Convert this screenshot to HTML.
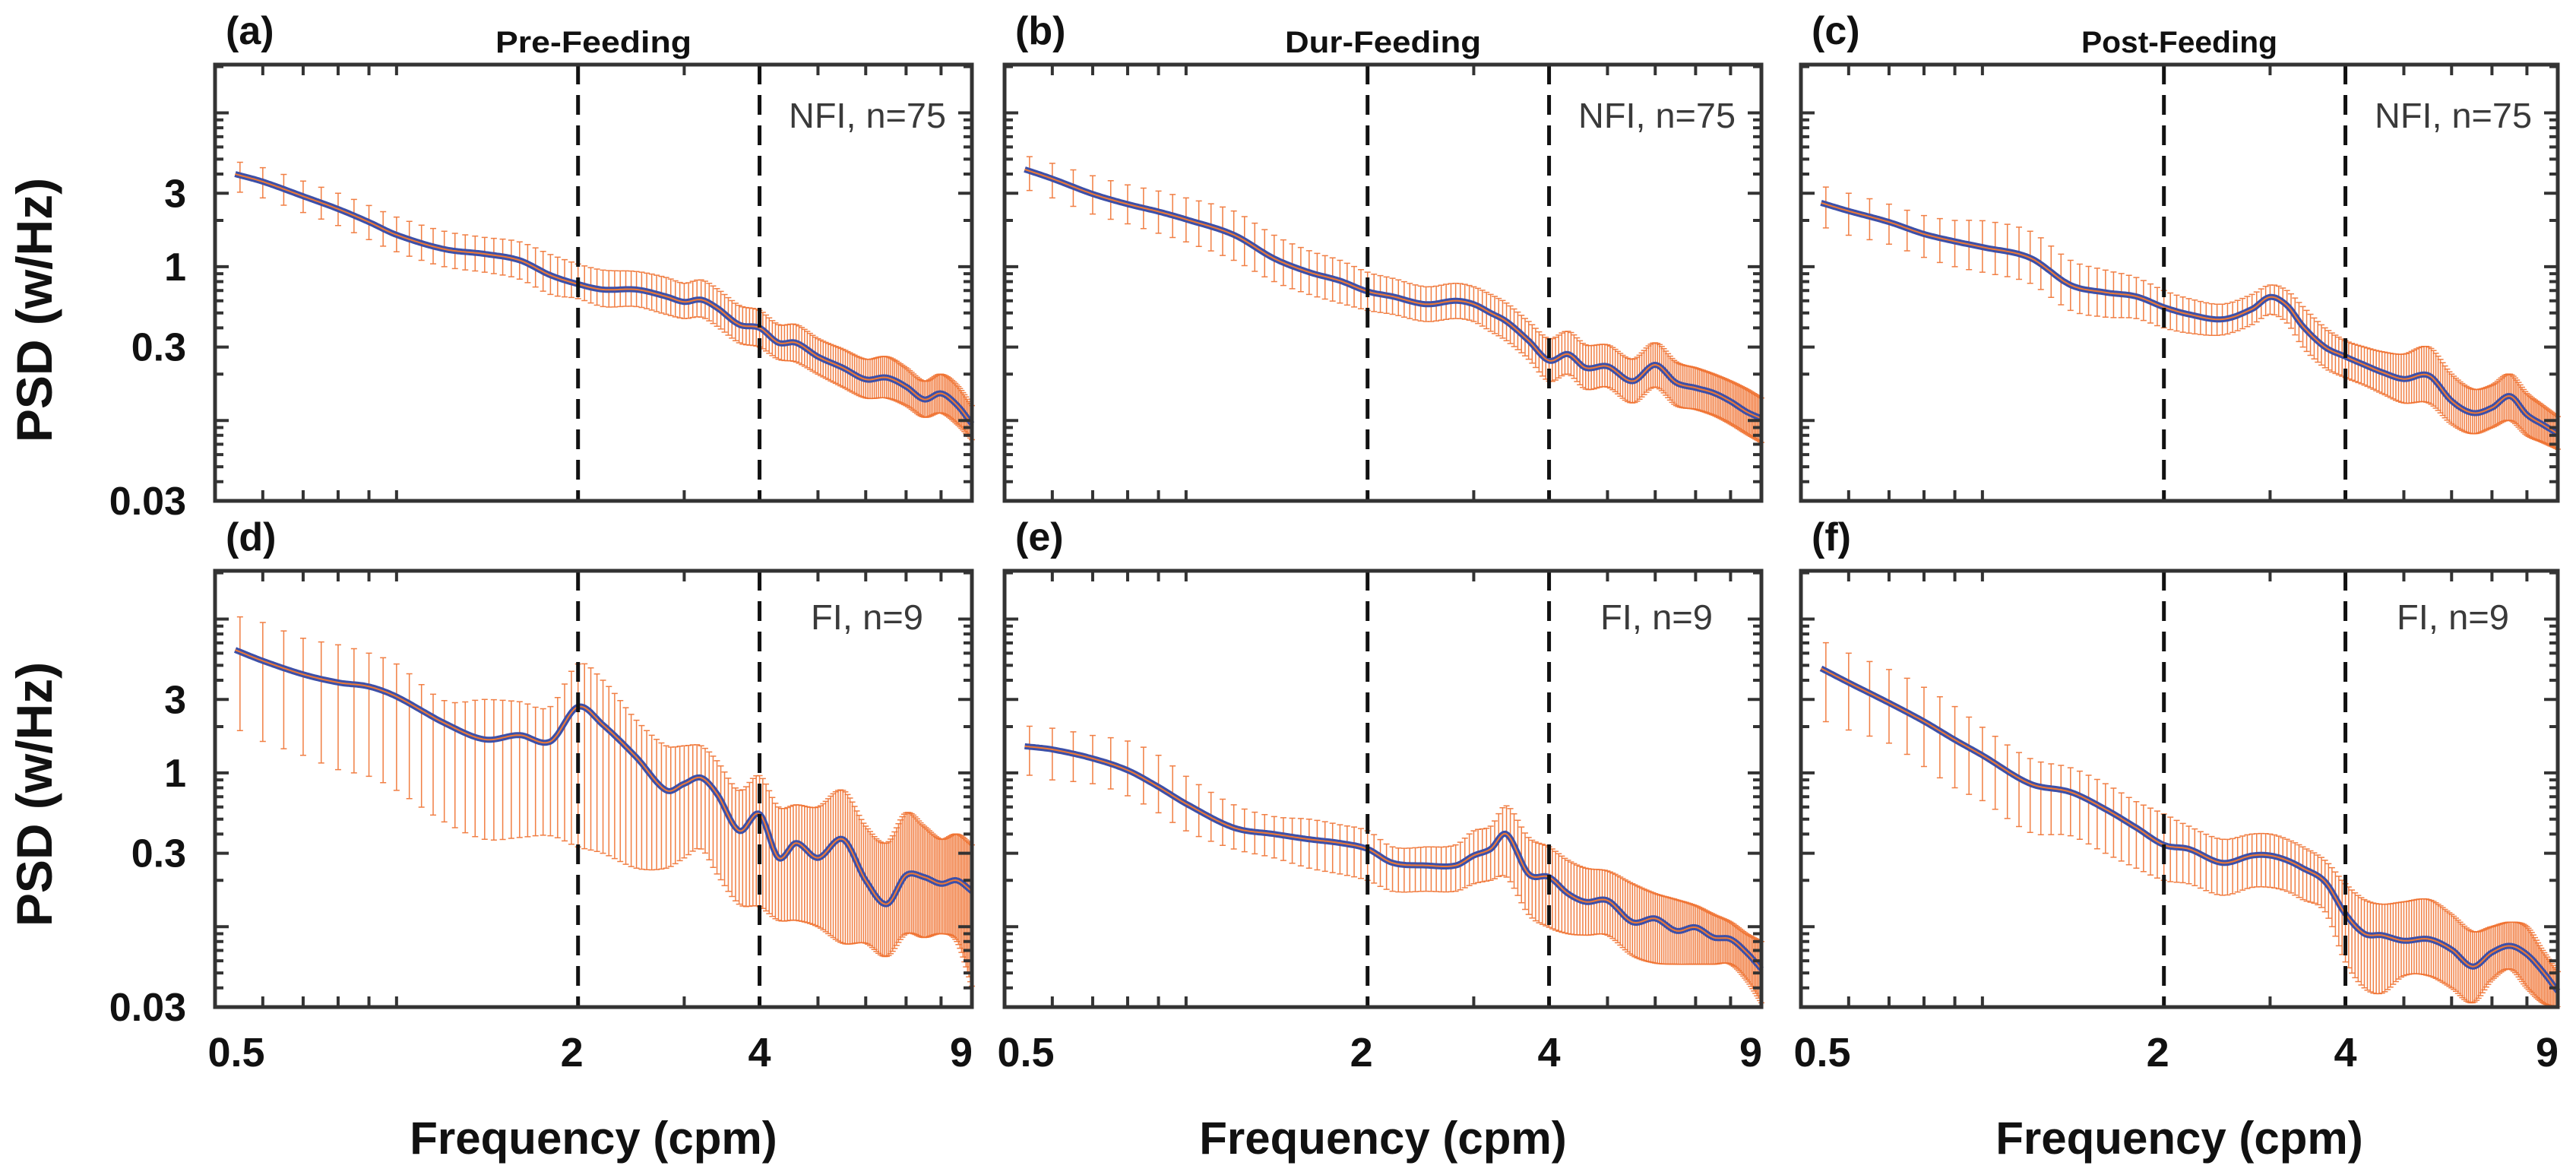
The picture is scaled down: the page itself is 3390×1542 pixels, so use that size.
<!DOCTYPE html>
<html><head><meta charset="utf-8"><style>
html,body{margin:0;padding:0;background:#fff;}
svg{display:block;}
text{font-family:"Liberation Sans",Arial,sans-serif;}
</style></head><body>
<svg id="chart" width="3390" height="1542" viewBox="0 0 3390 1542" xmlns="http://www.w3.org/2000/svg">
<defs>
<clipPath id="clipTop"><rect x="0" y="85" width="3390" height="574"/></clipPath>
<clipPath id="clipBot"><rect x="0" y="751" width="3390" height="574"/></clipPath>
</defs>
<text transform="translate(68,408) rotate(-90)" text-anchor="middle" font-size="66" font-weight="bold" fill="#111">PSD (w/Hz)</text>
<text transform="translate(68,1045) rotate(-90)" text-anchor="middle" font-size="66" font-weight="bold" fill="#111">PSD (w/Hz)</text>
<g id="panels"></g>
</svg>
<script>
const freqs = [0.54,0.6,0.7,0.8,0.9,1.0,1.2,1.4,1.6,1.8,2.0,2.2,2.5,2.8,3.0,3.2,3.4,3.7,4.0,4.3,4.6,5.0,5.5,6.0,6.5,7.0,7.5,8.0,8.5,9.0];

const meanA = [4.0,3.57,2.87,2.37,1.95,1.61,1.30,1.21,1.10,0.88,0.77,0.71,0.71,0.64,0.59,0.61,0.54,0.42,0.40,0.32,0.32,0.26,0.22,0.185,0.19,0.166,0.137,0.15,0.126,0.095];
const hiA = [4.85,4.4,3.6,3.0,2.5,2.1,1.7,1.55,1.45,1.2,1.04,0.95,0.93,0.85,0.78,0.82,0.72,0.56,0.52,0.42,0.42,0.34,0.29,0.25,0.26,0.22,0.18,0.2,0.17,0.125];
const loA = [3.1,2.8,2.25,1.85,1.5,1.25,1.0,0.92,0.83,0.66,0.62,0.55,0.55,0.49,0.46,0.47,0.41,0.32,0.30,0.25,0.24,0.2,0.165,0.14,0.14,0.125,0.105,0.112,0.095,0.075];

const meanB = [4.29,3.73,2.97,2.55,2.28,2.03,1.61,1.13,0.92,0.81,0.69,0.64,0.57,0.60,0.57,0.50,0.44,0.33,0.245,0.27,0.22,0.225,0.18,0.23,0.176,0.163,0.151,0.133,0.114,0.103];
const hiB = [5.3,4.7,3.9,3.4,3.1,2.8,2.3,1.6,1.27,1.1,0.92,0.84,0.74,0.78,0.74,0.66,0.58,0.44,0.34,0.38,0.31,0.31,0.25,0.32,0.24,0.22,0.2,0.18,0.16,0.14];
const loB = [3.2,2.8,2.2,1.9,1.65,1.45,1.1,0.8,0.66,0.58,0.52,0.49,0.44,0.46,0.44,0.38,0.33,0.25,0.18,0.2,0.16,0.165,0.13,0.165,0.125,0.118,0.108,0.095,0.082,0.072];

const meanC = [2.6,2.30,1.95,1.63,1.46,1.34,1.14,0.76,0.68,0.64,0.545,0.49,0.455,0.53,0.635,0.56,0.41,0.30,0.26,0.23,0.206,0.186,0.196,0.134,0.112,0.121,0.144,0.109,0.094,0.082];
const hiC = [3.36,3.0,2.55,2.15,2.0,1.99,1.7,1.1,0.95,0.85,0.70,0.62,0.57,0.66,0.76,0.70,0.55,0.40,0.33,0.30,0.28,0.27,0.30,0.2,0.16,0.17,0.2,0.15,0.125,0.106];
const loC = [1.83,1.6,1.4,1.15,1.0,0.92,0.78,0.52,0.47,0.46,0.40,0.37,0.36,0.42,0.49,0.43,0.30,0.22,0.19,0.17,0.15,0.13,0.13,0.095,0.082,0.09,0.1,0.08,0.072,0.065];

const meanD = [6.3,5.35,4.37,3.87,3.64,3.13,2.11,1.65,1.76,1.60,2.69,2.05,1.26,0.77,0.85,0.93,0.73,0.42,0.54,0.28,0.35,0.28,0.37,0.20,0.14,0.216,0.21,0.19,0.20,0.17];
const hiD = [10.5,9.5,7.5,6.8,6.0,5.1,2.95,3.0,2.9,2.7,5.1,4.0,2.2,1.5,1.5,1.5,1.2,0.77,0.96,0.6,0.62,0.6,0.77,0.45,0.35,0.55,0.45,0.37,0.4,0.34];
const loD = [1.95,1.6,1.3,1.05,0.95,0.77,0.48,0.37,0.38,0.39,0.33,0.3,0.24,0.24,0.28,0.32,0.22,0.14,0.135,0.11,0.11,0.1,0.078,0.078,0.064,0.09,0.085,0.09,0.08,0.041];

const meanE = [1.49,1.42,1.24,1.04,0.81,0.63,0.44,0.40,0.37,0.35,0.32,0.26,0.25,0.25,0.29,0.32,0.40,0.22,0.21,0.164,0.145,0.148,0.107,0.113,0.094,0.099,0.085,0.083,0.068,0.053];
const hiE = [2.02,1.95,1.75,1.61,1.3,0.95,0.62,0.52,0.5,0.46,0.42,0.33,0.33,0.34,0.42,0.45,0.61,0.38,0.33,0.27,0.24,0.23,0.19,0.164,0.15,0.137,0.12,0.107,0.09,0.08];
const loE = [0.98,0.9,0.85,0.71,0.55,0.42,0.32,0.28,0.24,0.22,0.2,0.17,0.17,0.17,0.19,0.2,0.21,0.12,0.099,0.09,0.088,0.088,0.065,0.058,0.057,0.057,0.057,0.057,0.045,0.032];

const meanF = [4.78,3.86,2.85,2.16,1.64,1.30,0.85,0.75,0.58,0.44,0.34,0.32,0.26,0.29,0.29,0.27,0.24,0.196,0.121,0.090,0.088,0.081,0.083,0.071,0.055,0.068,0.075,0.066,0.051,0.038];
const hiF = [7.26,6.0,4.7,3.6,2.7,1.98,1.24,1.08,0.85,0.65,0.54,0.45,0.37,0.40,0.40,0.37,0.33,0.27,0.19,0.15,0.14,0.145,0.15,0.12,0.093,0.10,0.107,0.1,0.07,0.051];
const loF = [2.21,1.9,1.56,1.1,0.8,0.66,0.41,0.39,0.3,0.24,0.2,0.19,0.16,0.18,0.18,0.17,0.15,0.125,0.059,0.04,0.037,0.048,0.048,0.04,0.032,0.045,0.053,0.04,0.032,0.03];

const panelLetters = ['(a)','(b)','(c)','(d)','(e)','(f)'];
const columnTitles = ['Pre-Feeding','Dur-Feeding','Post-Feeding'];
const groupLabels = ['NFI, n=75','FI, n=9'];
const xTickLabels = ['0.5','2','4','9'];
const xTickValues = [0.5,2,4,9];
const yTickLabels = ['3','1','0.3','0.03'];
const yTickValues = [3,1,0.3,0.03];
const bandLines = [2,4];

const NS='http://www.w3.org/2000/svg';
const root=document.getElementById('panels');
const lefts=[283,1322,2370], W=996, tops=[85,751], H=574;
const XMIN=0.5, XMAX=9, YMIN=0.03, YMAX=20.6;
function mk(tag,attrs,parent){const e=document.createElementNS(NS,tag);for(const k in attrs)e.setAttribute(k,attrs[k]);(parent||root).appendChild(e);return e;}
function xs(f,c){return lefts[c]+Math.log10(f/XMIN)/Math.log10(XMAX/XMIN)*W;}
function ys(v,r){return tops[r]+H-Math.log10(v/YMIN)/Math.log10(YMAX/YMIN)*H;}
function interp(vals,f){
  const X=freqs.map(Math.log10), Y=vals.map(Math.log10), x=Math.log10(f), n=X.length;
  if(x<=X[0])return vals[0]; if(x>=X[n-1])return vals[n-1];
  let i=0; while(X[i+1]<x)i++;
  const h=X[i+1]-X[i], t=(x-X[i])/h;
  const m=k=>k<=0?(Y[1]-Y[0])/(X[1]-X[0]):k>=n-1?(Y[n-1]-Y[n-2])/(X[n-1]-X[n-2]):(Y[k+1]-Y[k-1])/(X[k+1]-X[k-1]);
  const t2=t*t,t3=t2*t;
  const y=(2*t3-3*t2+1)*Y[i]+(t3-2*t2+t)*h*m(i)+(-2*t3+3*t2)*Y[i+1]+(t3-t2)*h*m(i+1);
  return Math.pow(10,y);
}
const series=[[meanA,hiA,loA],[meanB,hiB,loB],[meanC,hiC,loC],[meanD,hiD,loD],[meanE,hiE,loE],[meanF,hiF,loF]];

for(let p=0;p<6;p++){
  const r=Math.floor(p/3), c=p%3, L=lefts[c], T=tops[r], B=T+H, R=L+W;
  const [mean,hi,lo]=series[p];
  const g=mk('g',{});
  
  
  const pl=mk('text',{x:L+14,y:T-27,'font-size':52,'font-weight':'bold',fill:'#111'},g);
  pl.textContent=panelLetters[p];
  
  
  if(r===0){
    const tt=mk('text',{x:L+W/2,y:T-16,'text-anchor':'middle','font-size':40,'font-weight':'bold',fill:'#111',textLength:258,lengthAdjust:'spacingAndGlyphs'},g);
    tt.textContent=columnTitles[c];
    
    
  }
  const gl=mk('text',{x:r===0?R-34:R-64,y:r===0?T+83:T+77,'text-anchor':'end','font-size':46,fill:'#3a3a3a',textLength:r===0?207:148,lengthAdjust:'spacingAndGlyphs'},g);
  gl.textContent=groupLabels[r];
  
  
  const dg=mk('g',{'clip-path':r===0?'url(#clipTop)':'url(#clipBot)'},g);
  
  
  for(let f=0.55; f<=9.001; f+=0.05){
    const x=xs(f,c), yh=ys(interp(hi,f),r), yl=ys(interp(lo,f),r);
    const eb=mk('path',{d:`M${x},${yh}V${yl}M${x-4},${yh}h8M${x-4},${yl}h8`,stroke:'#f07130','stroke-width':1.5,'stroke-opacity':0.9,fill:'none'},dg);
    
    
  }
  let d='';
  const lf0=Math.log10(freqs[0]), lf1=Math.log10(9);
  for(let k=0;k<=400;k++){const f=Math.pow(10,lf0+(lf1-lf0)*k/400);d+=(k?'L':'M')+xs(f,c).toFixed(1)+','+ys(interp(mean,f),r).toFixed(1);}
  const ml=mk('path',{d,stroke:'#3c4fa8','stroke-width':8,fill:'none','stroke-linejoin':'round'},dg);
  
  
  const mo=mk('path',{d,stroke:'#f07a35','stroke-width':2,fill:'none'},dg);
  
  
  bandLines.forEach(b=>{
    const dl=mk('line',{x1:xs(b,c),x2:xs(b,c),y1:T,y2:B,stroke:'#111','stroke-width':5,'stroke-dasharray':'26 14'},g);
    
    
  });
  let td='';
  [0.6,0.7,0.8,0.9,1,3,5,6,7,8].forEach(f=>{const x=xs(f,c);td+=`M${x},${T}v14M${x},${B}v-14`;});
  [0.01,0.1,1,10].forEach(dec=>{for(let m=2;m<=9;m++){const v=dec*m;if(v<=YMIN||v>=YMAX)continue;const y=ys(v,r);const len=(Math.abs(v-0.3)<1e-9||v===3)?18:11;td+=`M${L},${y}h${len}M${R},${y}h${-len}`;}});
  [0.1,1,10].forEach(v=>{const y=ys(v,r);td+=`M${L},${y}h18M${R},${y}h-18`;});
  const tk=mk('path',{d:td,stroke:'#333','stroke-width':4,fill:'none'},g);
  
  
  const fr=mk('rect',{x:L,y:T,width:W,height:H,fill:'none',stroke:'#333','stroke-width':5},g);
  
  
  if(c===0){
    yTickValues.forEach((v,i)=>{
      const yt=mk('text',{x:L-38,y:ys(v,r)+18,'text-anchor':'end','font-size':52,'font-weight':'bold',fill:'#111'},g);
      yt.textContent=yTickLabels[i];
      
      
    });
  }
  if(r===1){
    const off=[28,-8,0,-14];
    xTickValues.forEach((v,i)=>{
      const xt=mk('text',{x:xs(v,c)+off[i],y:B+78,'text-anchor':'middle','font-size':54,'font-weight':'bold',fill:'#111'},g);
      xt.textContent=xTickLabels[i];
      
      
    });
    const xa=mk('text',{x:L+W/2,y:1518,'text-anchor':'middle','font-size':60,'font-weight':'bold',fill:'#111'},g);
    xa.textContent='Frequency (cpm)';
    
    
  }
}
</script>
</body></html>
